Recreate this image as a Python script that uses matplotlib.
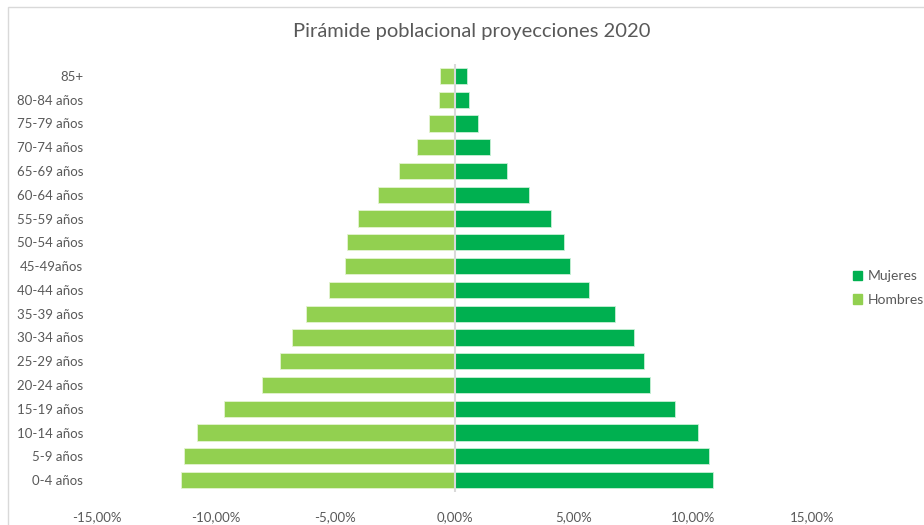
import numpy as np
import matplotlib.pyplot as plt
from matplotlib.patches import Rectangle, Patch

plt.rcParams['font.family'] = ['Lato', 'DejaVu Sans']

# age groups, bottom to top
grupos = ['0-4 años', '5-9 años', '10-14 años', '15-19 años', '20-24 años',
          '25-29 años', '30-34 años', '35-39 años', '40-44 años', '45-49años',
          '50-54 años', '55-59 años', '60-64 años', '65-69 años', '70-74 años',
          '75-79 años', '80-84 años', '85+']

# percent of population (hombres shown on the negative side)
hombres = [11.48, 11.33, 10.81, 9.66, 8.09, 7.32, 6.82, 6.25, 5.25, 4.61,
           4.51, 4.06, 3.19, 2.31, 1.57, 1.09, 0.67, 0.60]
mujeres = [10.85, 10.69, 10.21, 9.26, 8.19, 7.97, 7.52, 6.72, 5.63, 4.83,
           4.61, 4.06, 3.14, 2.21, 1.47, 0.99, 0.62, 0.52]

xticks = [-15, -10, -5, 0, 5, 10, 15]

c_muj = '#00B050'
c_hom = '#92D050'
gris = '#595959'

fig = plt.figure(figsize=(9.24, 5.25), dpi=100)
ax = fig.add_axes([97/924, 1 - 492/525, 715/924, 428/525])

y = np.arange(len(grupos))
ax.barh(y, mujeres, height=0.68, color=c_muj, edgecolor='#c8efd6', linewidth=0.6, label='Mujeres', zorder=2)
ax.barh(y, -np.array(hombres), height=0.68, color=c_hom, edgecolor='#e4f4d2', linewidth=0.6, label='Hombres', zorder=2)
ax.axvline(0, color='#d9d9d9', lw=1.5, zorder=3)

ax.set_xlim(-15, 15)
ax.set_ylim(-0.5, len(grupos) - 0.5)
ax.set_xticks(xticks)
ax.set_xticklabels([('%.2f%%' % v).replace('.', ',') for v in xticks])
ax.set_yticks(y)
ax.set_yticklabels(grupos)
ax.tick_params(length=0, labelsize=9.5, colors=gris)
ax.tick_params(axis='x', pad=14)
ax.tick_params(axis='y', pad=10)
for s in ax.spines.values():
    s.set_visible(False)

fig.text(472/924, 1 - 32/525, 'Pirámide poblacional proyecciones 2020',
         ha='center', va='center', fontsize=14.5, color=gris)

handles = [Patch(color=c_muj), Patch(color=c_hom)]
fig.legend(handles, ['Mujeres', 'Hombres'], loc='center left',
           bbox_to_anchor=(853/924, 1 - 288/525), frameon=False,
           fontsize=10, labelcolor=gris, handlelength=0.65, handleheight=0.65,
           handletextpad=0.4, labelspacing=0.85, borderaxespad=0, borderpad=0)

fig.patches.append(Rectangle((8/924, -0.1), 1.1, 1 - 7/525 + 0.1, transform=fig.transFigure,
                             fill=False, edgecolor='#d9d9d9', lw=1))

fig.savefig('out.png', dpi=100)
